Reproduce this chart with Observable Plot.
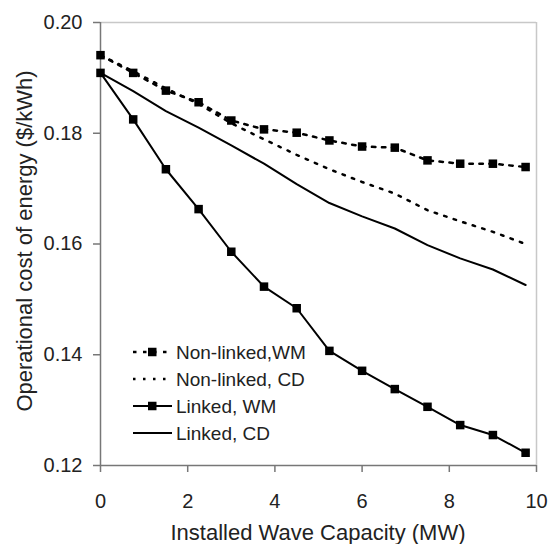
<!DOCTYPE html>
<html>
<head>
<meta charset="utf-8">
<script src="https://cdn.jsdelivr.net/npm/d3@7"></script>
<script src="https://cdn.jsdelivr.net/npm/@observablehq/plot@0.6"></script>
<style>
  html, body { margin: 0; padding: 0; background: #fff; }
</style>
</head>
<body>
<div id="chart"></div>
<script>
// Installed wave capacity (MW)
const capacity = [0, 0.75, 1.5, 2.25, 3, 3.75, 4.5, 5.25, 6, 6.75, 7.5, 8.25, 9, 9.75];
// Operational cost of energy ($/kWh)
const nonLinkedWM = [0.1941, 0.1909, 0.1877, 0.1856, 0.1823, 0.1807, 0.1801, 0.1787, 0.1776, 0.1774, 0.1751, 0.1745, 0.1745, 0.1739];
const nonLinkedCD = [0.1941, 0.1912, 0.1881, 0.1853, 0.1818, 0.1789, 0.1761, 0.1735, 0.1712, 0.1691, 0.1661, 0.1641, 0.1622, 0.1600];
const linkedWM    = [0.1909, 0.1825, 0.1735, 0.1663, 0.1586, 0.1523, 0.1484, 0.1407, 0.1371, 0.1338, 0.1306, 0.1273, 0.1255, 0.1223];
const linkedCD    = [0.1909, 0.1876, 0.1840, 0.1810, 0.1778, 0.1745, 0.1708, 0.1674, 0.1650, 0.1628, 0.1598, 0.1574, 0.1554, 0.1526];

const seriesNames = ["Non-linked,WM", "Non-linked, CD", "Linked, WM", "Linked, CD"];
const xTicks = [0, 2, 4, 6, 8, 10];
const yTicks = [0.12, 0.14, 0.16, 0.18, 0.20];
const xTitle = "Installed Wave Capacity (MW)";
const yTitle = "Operational cost of energy ($/kWh)";

const toRows = (vals) => capacity.map((x, i) => ({x, y: vals[i]}));
const rowsNLWM = toRows(nonLinkedWM);
const rowsNLCD = toRows(nonLinkedCD);
const rowsLWM = toRows(linkedWM);
const rowsLCD = toRows(linkedCD);

const FONT = "'Liberation Sans', Arial, Helvetica, sans-serif";
const styles = {
  [seriesNames[0]]: {dash: "3.5,6.5", width: 2.5, marker: true},
  [seriesNames[1]]: {dash: "2.5,7.5", width: 2.5, marker: false},
  [seriesNames[2]]: {dash: null, width: 2, marker: true},
  [seriesNames[3]]: {dash: null, width: 2, marker: false}
};

const chart = Plot.plot({
  width: 548,
  height: 544,
  marginLeft: 100,
  marginRight: 12,
  marginTop: 22,
  marginBottom: 79,
  style: {fontFamily: FONT, fontSize: "20px", color: "#222", background: "#fff"},
  x: {domain: [0, 10]},
  y: {domain: [0.12, 0.20]},
  marks: [
    Plot.ruleY([0.20], {stroke: "#c8c8c8", strokeWidth: 1.5}),
    Plot.ruleX([10], {stroke: "#c8c8c8", strokeWidth: 1.5}),
    Plot.ruleY([0.12], {stroke: "#777", strokeWidth: 1.5}),
    Plot.ruleX([0], {stroke: "#777", strokeWidth: 1.5}),
    Plot.axisX({ticks: xTicks, tickSize: 7, tickPadding: 21, stroke: "#777", strokeWidth: 1.5, fontSize: 20, label: null, tickFormat: d3.format("d")}),
    Plot.axisY({ticks: yTicks, tickSize: 7, tickPadding: 11, stroke: "#777", strokeWidth: 1.5, fontSize: 20, label: null, tickFormat: d3.format(".2f")}),
    Plot.line(rowsLCD, {x: "x", y: "y", stroke: "#000", strokeWidth: styles[seriesNames[3]].width}),
    Plot.line(rowsNLCD, {x: "x", y: "y", stroke: "#000", strokeWidth: styles[seriesNames[1]].width, strokeDasharray: styles[seriesNames[1]].dash}),
    Plot.line(rowsNLWM, {x: "x", y: "y", stroke: "#000", strokeWidth: styles[seriesNames[0]].width, strokeDasharray: styles[seriesNames[0]].dash}),
    Plot.dot(rowsNLWM, {x: "x", y: "y", symbol: "square", r: 4.8, fill: "#000", stroke: "none"}),
    Plot.line(rowsLWM, {x: "x", y: "y", stroke: "#000", strokeWidth: styles[seriesNames[2]].width}),
    Plot.dot(rowsLWM, {x: "x", y: "y", symbol: "square", r: 4.8, fill: "#000", stroke: "none"})
  ]
});

document.getElementById("chart").appendChild(chart);

// Axis titles and legend (added in pixel space over the plot frame)
const svg = d3.select(chart);
svg.append("text")
  .attr("x", 318).attr("y", 540)
  .attr("text-anchor", "middle")
  .attr("font-family", FONT).attr("font-size", 22).attr("fill", "#222")
  .text(xTitle);
svg.append("text")
  .attr("transform", "translate(32,241) rotate(-90)")
  .attr("text-anchor", "middle")
  .attr("font-family", FONT).attr("font-size", 22).attr("fill", "#222")
  .text(yTitle);

const legend = svg.append("g").attr("text-anchor", "start");
seriesNames.forEach((name, i) => {
  const cy = 352 + i * 27;
  const st = styles[name];
  legend.append("line")
    .attr("x1", 133).attr("x2", 172).attr("y1", cy).attr("y2", cy)
    .attr("stroke", "#000").attr("stroke-width", st.width)
    .attr("stroke-dasharray", st.dash);
  if (st.marker) {
    legend.append("rect")
      .attr("x", 148).attr("y", cy - 4.25).attr("width", 8.5).attr("height", 8.5)
      .attr("fill", "#000");
  }
  legend.append("text")
    .attr("x", 176).attr("y", cy).attr("dy", "0.36em")
    .attr("text-anchor", "start")
    .attr("font-family", FONT).attr("font-size", 19).attr("fill", "#222")
    .text(name);
});
</script>
</body>
</html>
